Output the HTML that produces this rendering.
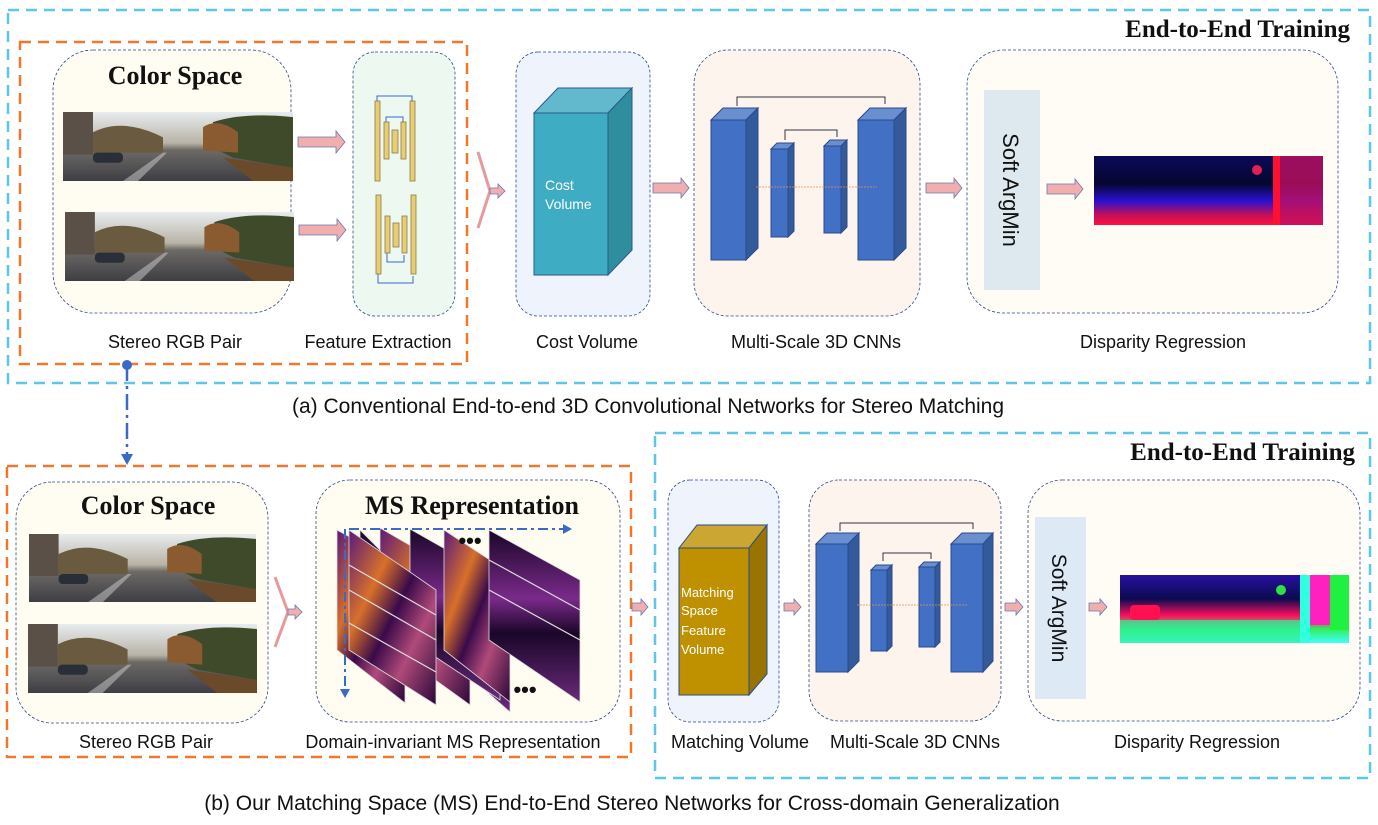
<!DOCTYPE html>
<html><head><meta charset="utf-8"><style>
html,body{margin:0;padding:0;background:#fff;}
svg{display:block;}
.lbl{font-family:"Liberation Sans",sans-serif;font-size:18px;fill:#111;text-anchor:middle;}
.cap{font-family:"Liberation Sans",sans-serif;font-size:21px;fill:#111;text-anchor:middle;}
.ser{font-family:"Liberation Serif",serif;font-weight:bold;fill:#111;}
</style></head><body>
<svg width="1378" height="825" viewBox="0 0 1378 825" xmlns="http://www.w3.org/2000/svg">
<defs>
<linearGradient id="sky" x1="0" y1="0" x2="0" y2="1">
<stop offset="0" stop-color="#e8ecef"/><stop offset="0.45" stop-color="#b9b3a6"/><stop offset="0.55" stop-color="#6d6a66"/><stop offset="1" stop-color="#3e3e44"/></linearGradient>
<linearGradient id="dispA" x1="0" y1="0" x2="0" y2="1">
<stop offset="0" stop-color="#0a0a5a"/><stop offset="0.4" stop-color="#060630"/><stop offset="0.65" stop-color="#2a10d0"/><stop offset="0.85" stop-color="#c0105a"/><stop offset="1" stop-color="#ff1040"/></linearGradient>
<linearGradient id="dispB" x1="0" y1="0" x2="0" y2="1">
<stop offset="0" stop-color="#2a10a0"/><stop offset="0.35" stop-color="#0a0a50"/><stop offset="0.6" stop-color="#ff1060"/><stop offset="0.8" stop-color="#30f060"/><stop offset="1" stop-color="#40ffff"/></linearGradient>
<linearGradient id="heat" x1="0" y1="0" x2="1" y2="1">
<stop offset="0" stop-color="#5a1a7a"/><stop offset="0.3" stop-color="#d8702a"/><stop offset="0.5" stop-color="#3a0a4a"/><stop offset="0.7" stop-color="#b04a7a"/><stop offset="1" stop-color="#2a0838"/></linearGradient>
<linearGradient id="heat2" x1="0" y1="0" x2="0" y2="1">
<stop offset="0" stop-color="#1a0628"/><stop offset="0.4" stop-color="#7a2a8a"/><stop offset="0.6" stop-color="#1a0628"/><stop offset="1" stop-color="#6a2a7a"/></linearGradient>
<symbol id="road" viewBox="0 0 230 68" preserveAspectRatio="none">
<rect width="230" height="68" fill="url(#sky)"/>
<rect x="0" y="0" width="30" height="42" fill="#5a5048"/>
<path d="M30 20 Q60 5 100 25 L100 40 L30 40Z" fill="#6a5a40"/>
<path d="M150 10 Q180 0 230 5 L230 55 L170 45 L150 35Z" fill="#3e4a2a"/>
<path d="M140 15 Q155 5 175 20 L175 40 L140 38Z" fill="#8a5a30"/>
<path d="M160 45 L230 55 L230 68 L190 68Z" fill="#6a4a2a"/>
<rect x="30" y="40" width="30" height="10" rx="4" fill="#2a2e38"/>
<path d="M60 68 L100 40 L104 40 L75 68Z" fill="#d0d0d0" opacity="0.5"/>
</symbol>
</defs>

<!-- TOP -->
<rect x="8" y="10" width="1362" height="373" fill="none" stroke="#5ec6ec" stroke-width="2.5" stroke-dasharray="11,7"/>
<text x="1350" y="37" class="ser" font-size="25" text-anchor="end">End-to-End Training</text>
<rect x="20" y="42" width="447" height="322" fill="none" stroke="#ec7a2c" stroke-width="2.5" stroke-dasharray="11,7"/>

<rect x="53" y="50" width="238" height="263" rx="40" fill="#fffcf2" stroke="#2a4a8a" stroke-width="0.8" stroke-dasharray="3,2"/>
<text x="175" y="84" class="ser" font-size="26" text-anchor="middle" font-weight="normal">Color Space</text>
<use href="#road" x="63" y="112" width="230" height="69"/>
<use href="#road" x="65" y="212" width="229" height="69"/>

<g fill="#f0aeae" stroke="#6a7ab0" stroke-width="0.8">
<path d="M298 137 h38 v-6 l9 11 l-9 11 v-6 h-38z"/>
<path d="M299 225 h38 v-6 l9 11 l-9 11 v-6 h-38z"/>
</g>

<rect x="353" y="52" width="102" height="264" rx="22" fill="#edf8f0" stroke="#2a4a8a" stroke-width="0.8" stroke-dasharray="3,2"/>
<g fill="#e8cd72" stroke="#8a7a50" stroke-width="0.8">
<rect x="375" y="101" width="5" height="80"/><rect x="384" y="122" width="5" height="37"/><rect x="392" y="130" width="6" height="23"/><rect x="401" y="122" width="5" height="37"/><rect x="410" y="101" width="5" height="80"/>
<rect x="376" y="195" width="5" height="79"/><rect x="385" y="216" width="5" height="37"/><rect x="393" y="223" width="6" height="24"/><rect x="402" y="216" width="5" height="37"/><rect x="411" y="195" width="5" height="79"/>
</g>
<g fill="none" stroke="#3a6ac8" stroke-width="1">
<path d="M377 101 V96 H412 V101"/><path d="M386 122 V117 H403 V122"/>
<path d="M387 253 V262 H404 V255"/><path d="M378 274 V283 H413 V276"/>
</g>

<path d="M478 152 L490 191 L478 228" fill="none" stroke="#e89a9a" stroke-width="3"/>
<path d="M490 188 h8 v-4 l7 7 l-7 7 v-4 h-8z" fill="#f0aeae" stroke="#6a7ab0" stroke-width="0.8"/>

<rect x="516" y="52" width="134" height="264" rx="22" fill="#eff3fb" stroke="#2a4a8a" stroke-width="0.8" stroke-dasharray="3,2"/>
<path d="M534 113 L558 88 L632 88 L608 113Z" fill="#62b9cd" stroke="#2a5a8a" stroke-width="1"/>
<path d="M608 113 L632 88 L632 250 L608 275Z" fill="#2f8e9e" stroke="#2a5a8a" stroke-width="1"/>
<rect x="534" y="113" width="74" height="162" fill="#3eadc4" stroke="#2a5a8a" stroke-width="1"/>
<text x="545" y="190" font-family="Liberation Sans,sans-serif" font-size="14" fill="#fff">Cost</text>
<text x="545" y="209" font-family="Liberation Sans,sans-serif" font-size="14" fill="#fff">Volume</text>

<path d="M653 183 h28 v-5 l8 10 l-8 10 v-5 h-28z" fill="#f0aeae" stroke="#6a7ab0" stroke-width="0.8"/>

<rect x="694" y="50" width="226" height="266" rx="34" fill="#fdf4ee" stroke="#2a4a8a" stroke-width="0.8" stroke-dasharray="3,2"/>
<g stroke="#2a4a8a" stroke-width="1">
<path d="M711 120 L723 108 L758 108 L746 120Z" fill="#6a8fd0"/><path d="M746 120 L758 108 L758 248 L746 260Z" fill="#335a9a"/><rect x="711" y="120" width="35" height="140" fill="#4270c4"/>
<path d="M771 149 L777 143 L794 143 L788 149Z" fill="#6a8fd0"/><path d="M788 149 L794 143 L794 231 L788 237Z" fill="#335a9a"/><rect x="771" y="149" width="17" height="88" fill="#4270c4"/>
<path d="M824 146 L830 140 L847 140 L841 146Z" fill="#6a8fd0"/><path d="M841 146 L847 140 L847 227 L841 233Z" fill="#335a9a"/><rect x="824" y="146" width="17" height="87" fill="#4270c4"/>
<path d="M858 120 L870 108 L906 108 L894 120Z" fill="#6a8fd0"/><path d="M894 120 L906 108 L906 248 L894 260Z" fill="#335a9a"/><rect x="858" y="120" width="36" height="140" fill="#4270c4"/>
</g>
<g fill="none" stroke="#334" stroke-width="1"><path d="M737 106 V97 H885 V104"/><path d="M785 140 V130 H837 V137"/></g>
<line x1="756" y1="187" x2="877" y2="187" stroke="#e8905a" stroke-width="0.8" stroke-dasharray="2,1"/>

<path d="M926 183 h28 v-5 l8 10 l-8 10 v-5 h-28z" fill="#f0aeae" stroke="#6a7ab0" stroke-width="0.8"/>

<rect x="967" y="50" width="371" height="263" rx="36" fill="#fefcf5" stroke="#2a4a8a" stroke-width="0.8" stroke-dasharray="3,2"/>
<rect x="984" y="90" width="56" height="200" fill="#dee9ef"/>
<text transform="translate(1003,190) rotate(90)" font-family="Liberation Sans,sans-serif" font-size="22" fill="#111" text-anchor="middle">Soft ArgMin</text>
<path d="M1047 184 h28 v-5 l8 10 l-8 10 v-5 h-28z" fill="#f0aeae" stroke="#6a7ab0" stroke-width="0.8"/>
<rect x="1094" y="156" width="229" height="69" fill="url(#dispA)"/>
<rect x="1275" y="156" width="48" height="69" fill="#c01060" opacity="0.8"/>
<rect x="1273" y="156" width="7" height="69" fill="#ff1030"/>
<circle cx="1257" cy="170" r="5" fill="#e02050"/>

<text x="175" y="348" class="lbl">Stereo RGB Pair</text>
<text x="378" y="348" class="lbl">Feature Extraction</text>
<text x="587" y="348" class="lbl">Cost Volume</text>
<text x="816" y="348" class="lbl">Multi-Scale 3D CNNs</text>
<text x="1163" y="348" class="lbl">Disparity Regression</text>
<text x="648" y="413" class="cap">(a) Conventional End-to-end 3D Convolutional Networks for Stereo Matching</text>

<!-- connector -->
<circle cx="127" cy="365" r="5" fill="#3a6ac8"/>
<line x1="127" y1="365" x2="127" y2="455" stroke="#3a6ac8" stroke-width="2.5" stroke-dasharray="16,5,3,5"/>
<path d="M121 454 L133 454 L127 465Z" fill="#3a6ac8"/>

<!-- BOTTOM -->
<rect x="7" y="466" width="624" height="291" fill="none" stroke="#ec7a2c" stroke-width="2.5" stroke-dasharray="11,7"/>
<rect x="655" y="433" width="715" height="345" fill="none" stroke="#5ec6ec" stroke-width="2.5" stroke-dasharray="11,7"/>
<text x="1355" y="460" class="ser" font-size="25" text-anchor="end">End-to-End Training</text>

<rect x="16" y="482" width="252" height="241" rx="36" fill="#fffcf2" stroke="#2a4a8a" stroke-width="0.8" stroke-dasharray="3,2"/>
<text x="148" y="514" class="ser" font-size="26" text-anchor="middle">Color Space</text>
<use href="#road" x="29" y="534" width="227" height="68"/>
<use href="#road" x="28" y="624" width="229" height="69"/>
<path d="M275 577 L288 612 L275 647" fill="none" stroke="#e89a9a" stroke-width="3"/>
<path d="M288 609 h7 v-4 l7 7 l-7 7 v-4 h-7z" fill="#f0aeae" stroke="#6a7ab0" stroke-width="0.8"/>

<rect x="316" y="480" width="304" height="242" rx="34" fill="#fffcf2" stroke="#2a4a8a" stroke-width="0.8" stroke-dasharray="3,2"/>
<text x="472" y="514" class="ser" font-size="26" text-anchor="middle" font-weight="normal">MS Representation</text>
<g stroke="#ddd" stroke-width="0.8">
<path d="M360 530 L510 680 L510 712 L360 580Z" fill="url(#heat2)"/>
<path d="M337 530 L405 567 L405 703 L337 650Z" fill="url(#heat)"/>
<path d="M380 528 L470 580 L470 705 L380 640Z" fill="url(#heat)"/>
<path d="M410 529 L500 580 L500 700 L410 640Z" fill="url(#heat2)"/>
<path d="M444 530 L510 573 L510 702 L444 650Z" fill="url(#heat)"/>
<path d="M489 530 L580 580 L580 702 L489 640Z" fill="url(#heat2)"/>
<path d="M349 530 L436 590 L436 705 L349 650Z" fill="url(#heat)"/>
</g>
<g stroke="#ddd" stroke-width="1.2" fill="none">
<path d="M349 565 L436 615"/><path d="M349 590 L436 640"/><path d="M349 623 L436 672"/>
<path d="M489 560 L580 610"/><path d="M489 590 L580 640"/>
</g>
<line x1="349" y1="529" x2="565" y2="529" stroke="#3a6ac8" stroke-width="2" stroke-dasharray="10,4,3,4"/>
<path d="M563 524 L572 529 L563 534Z" fill="#3a6ac8"/>
<line x1="345" y1="529" x2="345" y2="690" stroke="#3a6ac8" stroke-width="2" stroke-dasharray="10,4,3,4"/>
<path d="M340 689 L350 689 L345 698Z" fill="#3a6ac8"/>
<text x="470" y="548" font-family="Liberation Sans,sans-serif" font-size="22" font-weight="bold" fill="#111" text-anchor="middle">•••</text>
<text x="525" y="697" font-family="Liberation Sans,sans-serif" font-size="22" font-weight="bold" fill="#111" text-anchor="middle">•••</text>

<path d="M632 603 h9 v-4 l7 8 l-7 8 v-4 h-9z" fill="#f0aeae" stroke="#6a7ab0" stroke-width="0.8"/>

<rect x="668" y="480" width="111" height="242" rx="22" fill="#eff3fb" stroke="#2a4a8a" stroke-width="0.8" stroke-dasharray="3,2"/>
<path d="M679 548 L697 525 L767 525 L749 548Z" fill="#cba632" stroke="#2a4a8a" stroke-width="1"/>
<path d="M749 548 L767 525 L767 674 L749 695Z" fill="#9a7400" stroke="#2a4a8a" stroke-width="1"/>
<rect x="679" y="548" width="70" height="147" fill="#bf9100" stroke="#2a4a8a" stroke-width="1"/>
<g font-family="Liberation Sans,sans-serif" font-size="13" fill="#fff">
<text x="681" y="597">Matching</text><text x="681" y="615">Space</text><text x="681" y="635">Feature</text><text x="681" y="654">Volume</text></g>

<path d="M784 603 h10 v-4 l7 8 l-7 8 v-4 h-10z" fill="#f0aeae" stroke="#6a7ab0" stroke-width="0.8"/>

<rect x="809" y="480" width="192" height="241" rx="30" fill="#fdf4ee" stroke="#2a4a8a" stroke-width="0.8" stroke-dasharray="3,2"/>
<g stroke="#2a4a8a" stroke-width="1">
<path d="M816 544 L827 533 L859 533 L848 544Z" fill="#6a8fd0"/><path d="M848 544 L859 533 L859 661 L848 672Z" fill="#335a9a"/><rect x="816" y="544" width="32" height="128" fill="#4270c4"/>
<path d="M871 570 L876 565 L892 565 L887 570Z" fill="#6a8fd0"/><path d="M887 570 L892 565 L892 646 L887 651Z" fill="#335a9a"/><rect x="871" y="570" width="16" height="81" fill="#4270c4"/>
<path d="M919 567 L924 562 L940 562 L935 567Z" fill="#6a8fd0"/><path d="M935 567 L940 562 L940 642 L935 647Z" fill="#335a9a"/><rect x="919" y="567" width="16" height="80" fill="#4270c4"/>
<path d="M951 544 L962 533 L993 533 L983 544Z" fill="#6a8fd0"/><path d="M983 544 L993 533 L993 661 L983 672Z" fill="#335a9a"/><rect x="951" y="544" width="32" height="128" fill="#4270c4"/>
</g>
<g fill="none" stroke="#334" stroke-width="1"><path d="M840 531 V523 H973 V529"/><path d="M883 561 V553 H931 V559"/></g>
<line x1="857" y1="605" x2="967" y2="605" stroke="#e8905a" stroke-width="0.8" stroke-dasharray="2,1"/>

<path d="M1005 603 h11 v-4 l7 8 l-7 8 v-4 h-11z" fill="#f0aeae" stroke="#6a7ab0" stroke-width="0.8"/>

<rect x="1028" y="480" width="332" height="241" rx="34" fill="#fefcf5" stroke="#2a4a8a" stroke-width="0.8" stroke-dasharray="3,2"/>
<rect x="1035" y="517" width="51" height="182" fill="#dde9f5"/>
<text transform="translate(1052,608) rotate(90)" font-family="Liberation Sans,sans-serif" font-size="21" fill="#111" text-anchor="middle">Soft ArgMin</text>
<path d="M1089 603 h11 v-4 l7 8 l-7 8 v-4 h-11z" fill="#f0aeae" stroke="#6a7ab0" stroke-width="0.8"/>
<rect x="1120" y="575" width="229" height="68" fill="url(#dispB)"/>
<rect x="1300" y="575" width="10" height="68" fill="#30ffe0"/>
<rect x="1310" y="575" width="20" height="50" fill="#ff20c0"/>
<rect x="1330" y="575" width="19" height="55" fill="#20f040"/>
<rect x="1120" y="620" width="180" height="23" fill="#30f0a0" opacity="0.7"/>
<rect x="1130" y="605" width="30" height="15" rx="4" fill="#ff1050"/>
<circle cx="1281" cy="590" r="5" fill="#30e040"/>

<text x="146" y="748" class="lbl">Stereo RGB Pair</text>
<text x="453" y="748" class="lbl">Domain-invariant MS Representation</text>
<text x="740" y="748" class="lbl">Matching Volume</text>
<text x="915" y="748" class="lbl">Multi-Scale 3D CNNs</text>
<text x="1197" y="748" class="lbl">Disparity Regression</text>
<text x="632" y="810" class="cap">(b) Our Matching Space (MS) End-to-End Stereo Networks for Cross-domain Generalization</text>
</svg>
</body></html>
